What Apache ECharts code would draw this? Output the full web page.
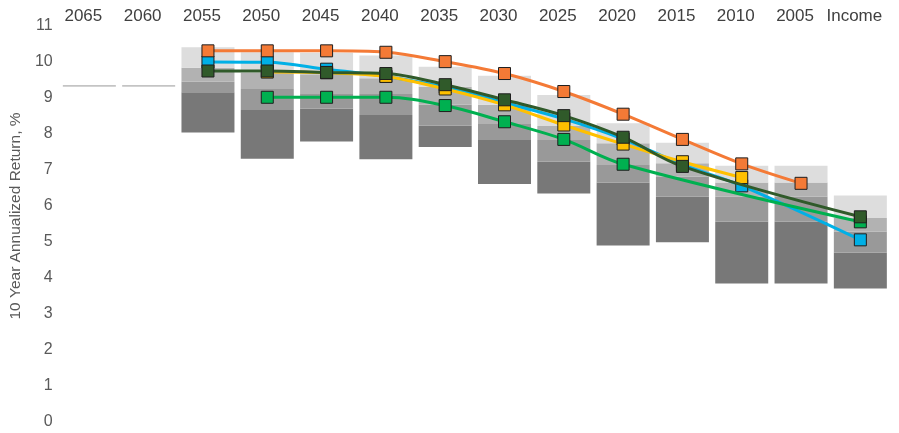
<!DOCTYPE html>
<html>
<head>
<meta charset="utf-8">
<script src="https://cdn.jsdelivr.net/npm/echarts@6/dist/echarts.min.js"></script>
<style>
  html, body { margin: 0; padding: 0; background: #ffffff; }
  #chart { width: 899px; height: 433px; }
</style>
</head>
<body>
<div id="chart"></div>
<script>
// Target-date vintages along the top axis
const categories = ['2065', '2060', '2055', '2050', '2045', '2040', '2035', '2030', '2025', '2020', '2015', '2010', '2005', 'Income'];

// Peer-group ranges (low, quartiles, high) for each vintage, in %
const boxLow  = [9.31, 9.31, 8.04, 7.31, 7.79, 7.30, 7.64, 6.61, 6.35, 4.90, 4.99, 3.85, 3.85, 3.71];
const boxQ1   = [9.31, 9.31, 9.16, 8.67, 8.71, 8.53, 8.23, 7.83, 7.23, 6.65, 6.26, 5.56, 5.56, 4.70];
const boxMid  = [9.31, 9.31, 9.45, 9.25, 9.11, 9.11, 8.81, 8.30, 7.83, 7.14, 6.81, 6.26, 6.26, 5.29];
const boxQ3   = [9.31, 9.31, 9.84, 9.70, 9.66, 9.55, 9.31, 8.81, 8.22, 7.74, 7.19, 6.65, 6.65, 5.67];
const boxHigh = [9.36, 9.36, 10.41, 10.27, 10.26, 10.18, 9.87, 9.62, 9.08, 8.30, 7.76, 7.12, 7.12, 6.29];

// Fund series, 10-year annualized return in %
const fundOrange    = [null, null, 10.31, 10.31, 10.31, 10.27, 10.01, 9.68, 9.18, 8.55, 7.85, 7.17, 6.63, null];
const fundBlue      = [null, null, 10.00, 9.99, 9.80, 9.60, 9.30, 8.87, 8.42, 7.86, 7.15, 6.56, null, 5.06];
const fundYellow    = [null, null, null, 9.72, 9.70, 9.60, 9.25, 8.81, 8.25, 7.72, 7.23, 6.79, null, null];
const fundDarkGreen = [null, null, 9.75, 9.75, 9.71, 9.68, 9.37, 8.95, 8.51, 7.91, 7.10, null, null, 5.70];
const fundGreen     = [null, null, null, 9.02, 9.02, 9.02, 8.79, 8.34, 7.85, 7.16, null, null, null, 5.56];

const yTicks = { min: 0, max: 11, step: 1 };

const FONT = "'Liberation Sans', Arial, sans-serif";

function diff(a, b) { return a.map((v, i) => +(v - b[i]).toFixed(4)); }

// Empty vintages are drawn as a thin rule only
const emptyVintage = categories.map((c, i) => boxHigh[i] - boxLow[i] < 0.1);

function segment(name, values, color) {
  return {
    name: name,
    type: 'bar',
    stack: 'range',
    barWidth: 53,
    silent: true,
    itemStyle: { color: color },
    data: values.map((v, i) => emptyVintage[i] && name === 'top'
      ? { value: v, itemStyle: { color: '#c4c4c4' } }
      : v)
  };
}

function fundLine(name, data, color, z) {
  return {
    name: name,
    type: 'line',
    data: data,
    connectNulls: true,
    smooth: 0.35,
    symbol: 'rect',
    symbolSize: 12,
    z: z,
    lineStyle: { color: color, width: 3 },
    itemStyle: { color: color, borderColor: '#1e1e1e', borderWidth: 1 }
  };
}

const chart = echarts.init(document.getElementById('chart'), null, { renderer: 'canvas' });

chart.setOption({
  animation: false,
  backgroundColor: '#ffffff',
  grid: { left: 57.5, right: 9, top: 26, bottom: 11, containLabel: false },
  xAxis: {
    type: 'category',
    position: 'top',
    data: categories,
    axisLine: { show: false },
    axisTick: { show: false },
    splitLine: { show: false },
    axisLabel: {
      color: '#404040',
      fontFamily: FONT,
      fontSize: 17,
      margin: 1,
      interval: 0,
      // trailing spacer nudges each label slightly left of its slot centre
      formatter: v => '{t|' + v + '}{s|}',
      rich: {
        t: { color: '#404040', fontFamily: FONT, fontSize: 17 },
        s: { width: 12 }
      }
    }
  },
  yAxis: {
    type: 'value',
    min: yTicks.min,
    max: yTicks.max,
    interval: yTicks.step,
    name: '10 Year Annualized Return, %',
    nameLocation: 'middle',
    nameRotate: 90,
    nameGap: 34,
    nameTextStyle: { color: '#595959', fontFamily: FONT, fontSize: 15.5, padding: [0, 0, 0, 16] },
    axisLine: { show: false },
    axisTick: { show: false },
    splitLine: { show: false },
    axisLabel: { color: '#595959', fontFamily: FONT, fontSize: 16, margin: 7 }
  },
  series: [
    {
      name: 'base',
      type: 'bar',
      stack: 'range',
      barWidth: 53,
      silent: true,
      itemStyle: { color: 'transparent' },
      data: boxLow
    },
    segment('low', diff(boxQ1, boxLow), '#787878'),
    segment('q1', diff(boxMid, boxQ1), '#999999'),
    segment('q3', diff(boxQ3, boxMid), '#b2b2b2'),
    segment('top', diff(boxHigh, boxQ3), '#dddddd'),
    fundLine('Blue', fundBlue, '#00b0e6', 10),
    fundLine('Yellow', fundYellow, '#ffc000', 11),
    fundLine('Green', fundGreen, '#00b050', 12),
    fundLine('Dark green', fundDarkGreen, '#305a2a', 13),
    fundLine('Orange', fundOrange, '#f47a36', 14)
  ]
});
</script>
</body>
</html>
